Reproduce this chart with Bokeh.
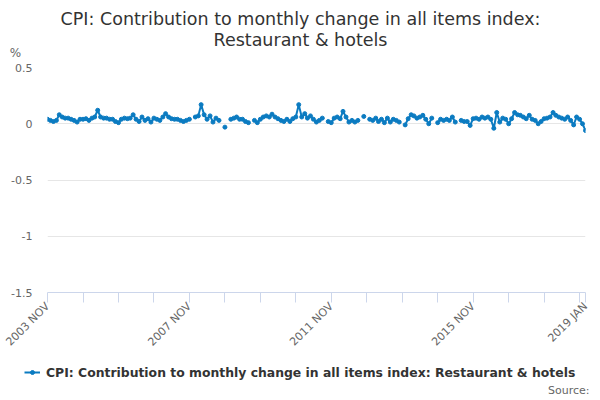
import math
import json
import numpy as np
import pandas as pd
from bokeh.plotting import figure
from bokeh.layouts import column
from bokeh.models import (Range1d, FixedTicker, CustomJSTickFormatter, Label,
                          Legend, LegendItem, ColumnDataSource)
from bokeh.embed import file_html
from bokeh.resources import INLINE

# ---------------- data ----------------
title_line1 = "CPI: Contribution to monthly change in all items index:"
title_line2 = "Restaurant & hotels"
series_name = "CPI: Contribution to monthly change in all items index: Restaurant & hotels"
unit_label = "%"
source_label = "Source:"
first_month = "2003-11-01"

values = [
    0.04, 0.03, 0.02, 0.03, 0.08, 0.06, 0.05, 0.05, 0.04, 0.03, 0.015, 0.04,
    0.04, 0.045, 0.03, 0.05, 0.06, 0.12, 0.06, 0.05, 0.05, 0.04, 0.04, 0.02,
    0.01, 0.04, 0.05, 0.045, 0.05, 0.08, 0.04, 0.02, 0.06, 0.03, 0.045, 0.015,
    0.05, 0.04, 0.03, 0.06, 0.09, 0.06, 0.045, 0.04, 0.04, 0.03, 0.02, 0.03,
    0.04, None, 0.06, 0.07, 0.17, 0.08, 0.04, 0.07, 0.015, 0.05, 0.03, None,
    -0.03, None, 0.04, 0.05, 0.06, 0.04, 0.04, 0.02, 0.01, None, 0.03, 0.01,
    0.04, 0.06, 0.07, 0.06, 0.085, 0.06, 0.045, 0.03, 0.02, 0.04, 0.02, 0.045,
    0.06, 0.17, 0.06, 0.09, 0.05, 0.07, 0.04, 0.015, 0.03, 0.05, None, 0.02,
    0.01, 0.05, 0.06, 0.045, 0.11, 0.06, 0.015, 0.03, 0.015, 0.03, None, 0.065,
    None, 0.04, 0.03, 0.05, 0.02, 0.04, 0.01, 0.05, 0.015, 0.04, 0.03, 0.015,
    None, -0.01, 0.045, 0.08, 0.07, 0.05, 0.06, 0.075, 0.04, 0.0, 0.05, None,
    0.01, 0.04, 0.03, 0.04, 0.03, 0.06, 0.015, None, 0.03, 0.02, 0.02, -0.015,
    0.045, 0.05, 0.04, 0.06, 0.05, 0.06, 0.04, -0.04, 0.1, 0.015, 0.05, 0.04,
    0.0, 0.045, 0.1, 0.08, 0.075, 0.06, 0.045, 0.075, 0.04, 0.03, 0.0, 0.02,
    0.045, 0.05, 0.06, 0.1, 0.075, 0.06, 0.05, 0.04, 0.06, 0.03, -0.01, 0.06,
    0.04, 0.0, -0.06,
]

y_ticks = [-1.5, -1.0, -0.5, 0.0, 0.5]
x_tick_months = ["2003-11", "2004-11", "2005-11", "2006-11", "2007-11", "2008-11",
                 "2009-11", "2010-11", "2011-11", "2012-11", "2013-11", "2014-11",
                 "2015-11", "2016-11", "2017-11", "2018-11", "2019-01"]
x_tick_labels = {"2003-11": "2003 NOV", "2007-11": "2007 NOV", "2011-11": "2011 NOV",
                 "2015-11": "2015 NOV", "2019-01": "2019 JAN"}

# ---------------- build ----------------
dates = pd.date_range(start=first_month, periods=len(values), freq="MS")
vals = np.array([np.nan if v is None else v for v in values], dtype=float)
src = ColumnDataSource(data=dict(date=dates, val=vals))

def to_ms(m):
    return int(pd.Timestamp(m + "-01").value // 10**6)

tick_ms = [to_ms(m) for m in x_tick_months]
label_map = {str(to_ms(m)): lab for m, lab in x_tick_labels.items()}

W = 592
LINE_C = "#0b7bc1"
AX_C = "#ccd6eb"
TXT_C = "#666666"
TITLE_C = "#333333"
FONT = "DejaVu Sans"


def no_align(f):
    try:
        f.frame_align = False
    except Exception:
        pass


def bare_fig(h):
    f = figure(width=W, height=h, frame_width=W, frame_height=h,
               x_range=Range1d(0, 1), y_range=Range1d(0, 1),
               x_axis_location=None, y_axis_location=None,
               output_backend="svg", toolbar_location=None, title=None,
               min_border=0)
    f.outline_line_color = None
    f.xgrid.visible = False
    f.ygrid.visible = False
    no_align(f)
    return f


def add_text(f, txt, x, y, size, color, align="center", style="normal"):
    f.add_layout(Label(x=x, y=y, x_units="screen", y_units="screen", text=txt,
                       text_font=FONT, text_font_size=size, text_color=color,
                       text_align=align, text_baseline="middle",
                       text_font_style=style))

# ---- header (page y 0..60) ----
HEAD_H = 60
head = bare_fig(HEAD_H)
add_text(head, title_line1, 300, HEAD_H - 18, "17.5px", TITLE_C)
add_text(head, title_line2, 300, HEAD_H - 39, "17.5px", TITLE_C)
add_text(head, unit_label, 15, HEAD_H - 52, "12px", TXT_C)

# ---- main chart (page y 60..360) ----
p = figure(width=W, height=300, x_axis_type="datetime",
           x_range=Range1d(start=dates[0], end=dates[-1]),
           y_range=Range1d(start=-1.5, end=0.5),
           output_backend="svg", toolbar_location=None, title=None,
           min_border_left=47, min_border_right=W - 585, min_border_top=7,
           min_border_bottom=68)
p.outline_line_color = None
no_align(p)

p.yaxis.ticker = FixedTicker(ticks=y_ticks)
p.yaxis.formatter = CustomJSTickFormatter(code="return String(tick);")
p.yaxis.axis_line_color = None
p.yaxis.major_tick_line_color = None
p.yaxis.minor_tick_line_color = None
p.yaxis.major_tick_out = 0
p.yaxis.major_tick_in = 0
p.yaxis.major_label_text_color = TXT_C
p.yaxis.major_label_text_font = FONT
p.yaxis.major_label_text_font_size = "11px"
p.yaxis.major_label_standoff = 15
p.ygrid.ticker = FixedTicker(ticks=y_ticks)
p.ygrid.grid_line_color = "#e6e6e6"
p.xgrid.visible = False

p.xaxis.ticker = FixedTicker(ticks=tick_ms)
p.xaxis.formatter = CustomJSTickFormatter(
    code="const m = " + json.dumps(label_map) + "; const k = String(Math.round(tick)); return (k in m) ? m[k] : '';")
p.xaxis.major_label_orientation = math.pi / 4
p.xaxis.axis_line_color = AX_C
p.xaxis.major_tick_line_color = AX_C
p.xaxis.minor_tick_line_color = None
p.xaxis.major_tick_out = 10
p.xaxis.major_tick_in = 0
p.xaxis.major_label_text_color = TXT_C
p.xaxis.major_label_text_font = FONT
p.xaxis.major_label_text_font_size = "11px"
p.xaxis.major_label_standoff = 2

p.line(x="date", y="val", source=src, line_width=2, line_color=LINE_C)
p.scatter(x="date", y="val", source=src, size=4, fill_color=LINE_C,
          line_color=LINE_C)

# ---- footer: legend + source (page y 360..398) ----
FOOT_H = 38
foot = bare_fig(FOOT_H)
lg_src = ColumnDataSource(data=dict(x=[np.nan], y=[np.nan]))
lg_line = foot.line(x="x", y="y", source=lg_src, line_width=2, line_color=LINE_C)
lg_pts = foot.scatter(x="x", y="y", source=lg_src, size=4, fill_color=LINE_C,
                      line_color=LINE_C)
legend = Legend(items=[LegendItem(label=series_name, renderers=[lg_line, lg_pts])],
                location=(24, FOOT_H - 380 + 360), orientation="horizontal",
                label_text_font=FONT, label_text_font_style="bold",
                label_text_font_size="12.4px", label_text_color=TITLE_C,
                glyph_width=16, glyph_height=10, label_height=16,
                label_standoff=6, padding=0, spacing=0, margin=0,
                border_line_color=None, background_fill_alpha=0)
foot.add_layout(legend, "center")
add_text(foot, source_label, 589, FOOT_H - 30, "11px", TXT_C, align="right")

layout = column(head, p, foot, spacing=0)
open("out.html", "w").write(file_html(layout, INLINE))
